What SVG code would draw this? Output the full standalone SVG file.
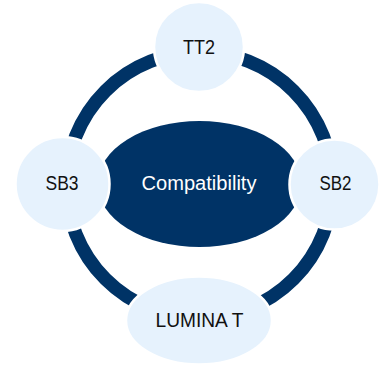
<svg xmlns="http://www.w3.org/2000/svg" width="385" height="366" viewBox="0 0 385 366">
  <style>
    .ring { fill: none; stroke: #003366; stroke-width: 13.5; }
    .node { fill: #E6F2FD; stroke: #FFFFFF; stroke-width: 2.5; }
    .core { fill: #003366; }
    .lbl { font-family: "Liberation Sans", Arial, sans-serif; font-size: 19.5px; fill: #111111; text-anchor: middle; }
    .lbl-w { font-family: "Liberation Sans", Arial, sans-serif; font-size: 19.5px; fill: #FFFFFF; text-anchor: middle; }
  </style>
  <rect width="385" height="366" fill="#FFFFFF"/>
  <g id="connectors">
    <circle class="ring" cx="199.5" cy="185" r="133"/>
  </g>
  <g id="node-compatibility">
    <ellipse class="core" cx="199.5" cy="184" rx="102" ry="63"/>
    <text class="lbl-w" x="199" y="190" textLength="115" lengthAdjust="spacingAndGlyphs">Compatibility</text>
  </g>
  <g id="node-tt2">
    <circle class="node" cx="199" cy="47" r="45"/>
    <text class="lbl" x="199" y="54" textLength="32" lengthAdjust="spacingAndGlyphs">TT2</text>
  </g>
  <g id="node-sb3">
    <circle class="node" cx="62.5" cy="184" r="47"/>
    <text class="lbl" x="62" y="190" textLength="33" lengthAdjust="spacingAndGlyphs">SB3</text>
  </g>
  <g id="node-sb2">
    <circle class="node" cx="334.5" cy="184.5" r="45"/>
    <text class="lbl" x="335.5" y="190" textLength="32" lengthAdjust="spacingAndGlyphs">SB2</text>
  </g>
  <g id="node-lumina-t">
    <ellipse class="node" cx="199" cy="320.5" rx="73" ry="44"/>
    <text class="lbl" x="199.5" y="327" textLength="88" lengthAdjust="spacingAndGlyphs">LUMINA T</text>
  </g>
</svg>
